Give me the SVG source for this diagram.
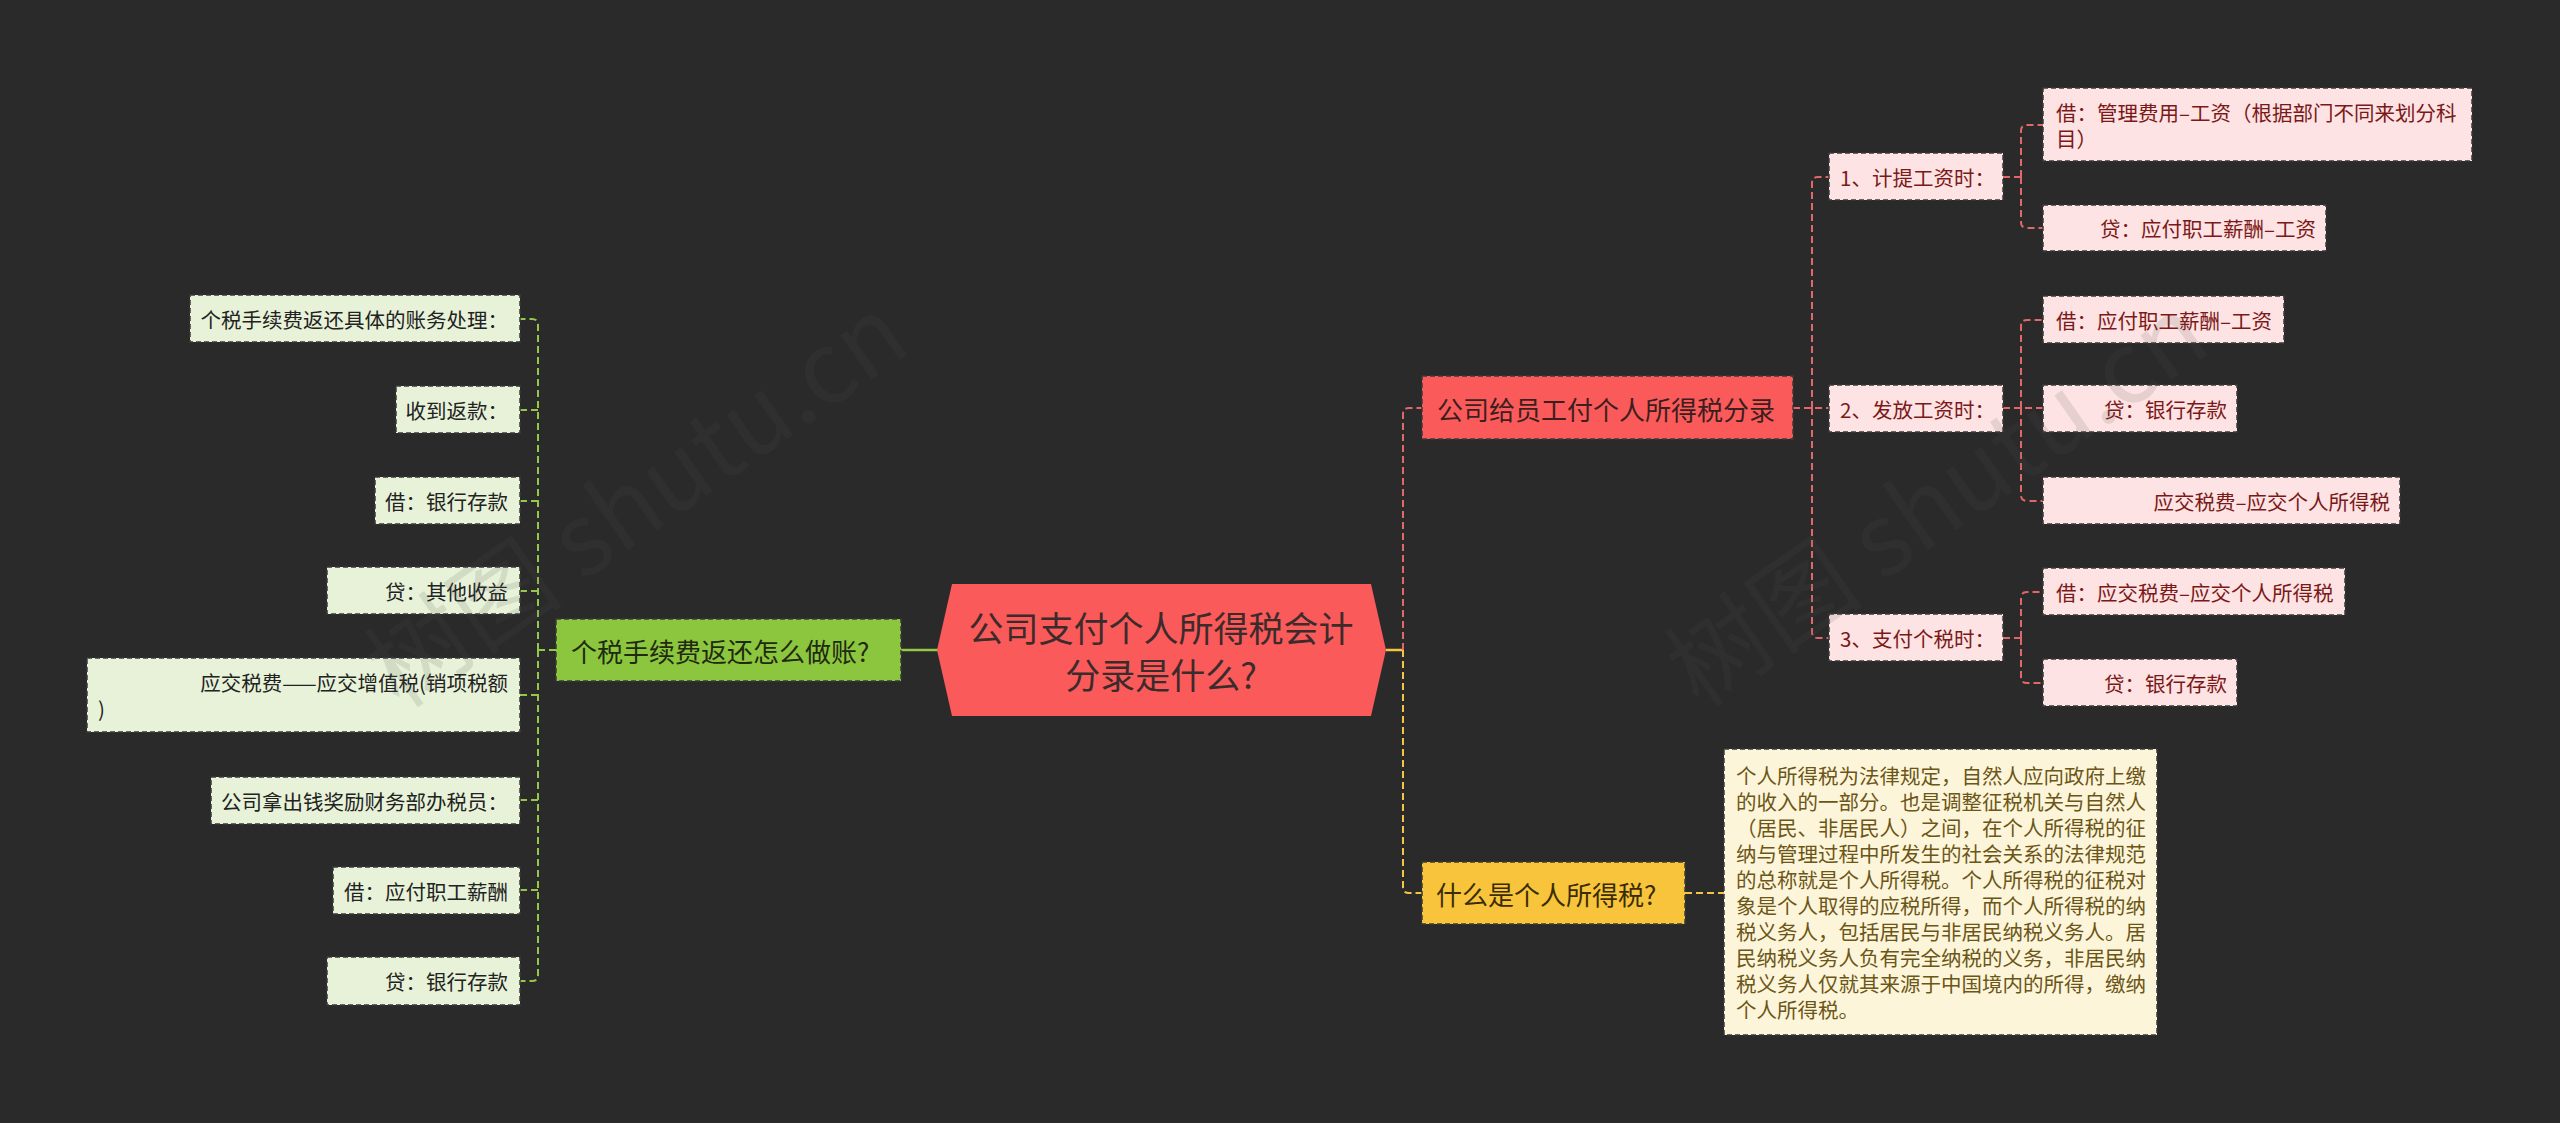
<svg xmlns="http://www.w3.org/2000/svg" width="2560" height="1123" viewBox="0 0 2560 1123">
<style>
text{font-family:"Noto Sans CJK SC","Noto Sans",sans-serif;dominant-baseline:central}
.nb{stroke:#3a3a3a;stroke-width:1.5;stroke-dasharray:5 3}
.red{fill:#fa5a5a}
.pink{fill:#fde3e3}
.gl{fill:#e7f2d8}
.gb{fill:#8cc63e}
.yl{fill:#f8c43c}
.ds{fill:#fdf5d9}
.tp{font-size:20.5px;fill:#7b1818}
.tg{font-size:20.5px;fill:#222222}
.td{font-size:20.5px;fill:#6b5618}
.tb{font-size:26px}
.c{fill:none;stroke-width:2;stroke-dasharray:7 4}
.cr{stroke:#e0676a}
.cg{stroke:#95c847}
.cy{stroke:#f4c542}
.wm{font-size:100px;fill:#505050;opacity:0.13;font-family:"Noto Sans CJK SC",sans-serif;dominant-baseline:alphabetic}
</style>
<rect x="0" y="0" width="2560" height="1123" fill="#2a2a2a"/>

<g id="connectors">
  <path d="M940,650 H901" stroke="#95c847" stroke-width="2.5" fill="none"/>
  <path d="M1386,650 H1403" stroke="#f4c542" stroke-width="2.5" fill="none"/>
  <path class="c cr" d="M1403,650 V414 Q1403,408 1409,408 H1422"/>
  <path class="c cy" d="M1403,650 V887 Q1403,893 1409,893 H1422"/>
  <path class="c cy" d="M1685,893 H1724"/>
  <path class="c cr" d="M1793,408 H1829"/>
  <path class="c cr" d="M1812,408 V183 Q1812,177 1818,177 H1829"/>
  <path class="c cr" d="M1812,408 V632 Q1812,638 1818,638 H1829"/>
  <path class="c cr" d="M2003,177 H2021"/>
  <path class="c cr" d="M2021,177 V131 Q2021,125 2027,125 H2043"/>
  <path class="c cr" d="M2021,177 V222 Q2021,228 2027,228 H2043"/>
  <path class="c cr" d="M2003,408 H2043"/>
  <path class="c cr" d="M2021,408 V326 Q2021,320 2027,320 H2043"/>
  <path class="c cr" d="M2021,408 V495 Q2021,501 2027,501 H2043"/>
  <path class="c cr" d="M2003,638 H2021"/>
  <path class="c cr" d="M2021,638 V598 Q2021,592 2027,592 H2043"/>
  <path class="c cr" d="M2021,638 V677 Q2021,683 2027,683 H2043"/>
  <path class="c cg" d="M556,650 H538"/>
  <path class="c cg" d="M538,650 V325 Q538,319 532,319 H520"/>
  <path class="c cg" d="M538,650 V975 Q538,981 532,981 H520"/>
  <path class="c cg" d="M538,410 H520"/>
  <path class="c cg" d="M538,501 H520"/>
  <path class="c cg" d="M538,591 H520"/>
  <path class="c cg" d="M538,695 H520"/>
  <path class="c cg" d="M538,800 H520"/>
  <path class="c cg" d="M538,890 H520"/>
</g>

<g id="root">
  <polygon class="red" points="937,650 952,584 1371,584 1386,650 1371,716 952,716"/>
  <text x="1161" y="626" font-size="35" fill="#3c2b2b" text-anchor="middle">公司支付个人所得税会计</text>
  <text x="1161" y="673" font-size="35" fill="#3c2b2b" text-anchor="middle">分录是什么?</text>
</g>

<g id="branch-red">
  <rect class="red nb" x="1422" y="376" width="371" height="63"/>
  <text class="tb" x="1437" y="408" fill="#3c1e1e">公司给员工付个人所得税分录</text>
</g>
<g id="branch-yellow">
  <rect class="yl nb" x="1422" y="862" width="263" height="62"/>
  <text class="tb" x="1436" y="893" fill="#3a2d05">什么是个人所得税?</text>
</g>
<g id="branch-green">
  <rect class="gb nb" x="556" y="619" width="345" height="62"/>
  <text class="tb" x="571" y="650" fill="#1f2a10">个税手续费返还怎么做账?</text>
</g>

<g id="desc">
  <rect class="ds nb" x="1724" y="749" width="433" height="286"/>
  <text class="td" x="1736" y="775">个人所得税为法律规定，自然人应向政府上缴</text>
  <text class="td" x="1736" y="801">的收入的一部分。也是调整征税机关与自然人</text>
  <text class="td" x="1736" y="827">（居民、非居民人）之间，在个人所得税的征</text>
  <text class="td" x="1736" y="853">纳与管理过程中所发生的社会关系的法律规范</text>
  <text class="td" x="1736" y="879">的总称就是个人所得税。个人所得税的征税对</text>
  <text class="td" x="1736" y="905">象是个人取得的应税所得，而个人所得税的纳</text>
  <text class="td" x="1736" y="931">税义务人，包括居民与非居民纳税义务人。居</text>
  <text class="td" x="1736" y="957">民纳税义务人负有完全纳税的义务，非居民纳</text>
  <text class="td" x="1736" y="983">税义务人仅就其来源于中国境内的所得，缴纳</text>
  <text class="td" x="1736" y="1009">个人所得税。</text>
</g>

<g id="step1">
  <rect class="pink nb" x="1829" y="153" width="174" height="47"/>
  <text class="tp" x="1840" y="177">1、计提工资时：</text>
</g>
<g id="step2">
  <rect class="pink nb" x="1829" y="385" width="174" height="47"/>
  <text class="tp" x="1840" y="409">2、发放工资时：</text>
</g>
<g id="step3">
  <rect class="pink nb" x="1829" y="614" width="174" height="47"/>
  <text class="tp" x="1840" y="638">3、支付个税时：</text>
</g>

<g id="a1">
  <rect class="pink nb" x="2043" y="88" width="429" height="73"/>
  <text class="tp" x="2056" y="112">借：管理费用–工资（根据部门不同来划分科</text>
  <text class="tp" x="2056" y="138">目）</text>
</g>
<g id="a2">
  <rect class="pink nb" x="2043" y="205" width="283" height="46"/>
  <text class="tp" x="2316" y="228" text-anchor="end">贷：应付职工薪酬–工资</text>
</g>
<g id="b1">
  <rect class="pink nb" x="2043" y="296" width="241" height="47"/>
  <text class="tp" x="2056" y="320">借：应付职工薪酬–工资</text>
</g>
<g id="b2">
  <rect class="pink nb" x="2043" y="385" width="194" height="47"/>
  <text class="tp" x="2227" y="409" text-anchor="end">贷：银行存款</text>
</g>
<g id="b3">
  <rect class="pink nb" x="2043" y="477" width="357" height="47"/>
  <text class="tp" x="2390" y="501" text-anchor="end">应交税费–应交个人所得税</text>
</g>
<g id="c1">
  <rect class="pink nb" x="2043" y="568" width="302" height="47"/>
  <text class="tp" x="2056" y="592">借：应交税费–应交个人所得税</text>
</g>
<g id="c2">
  <rect class="pink nb" x="2043" y="659" width="194" height="47"/>
  <text class="tp" x="2227" y="683" text-anchor="end">贷：银行存款</text>
</g>

<g id="l1">
  <rect class="gl nb" x="190" y="295" width="330" height="47"/>
  <text class="tg" x="508" y="319" text-anchor="end">个税手续费返还具体的账务处理：</text>
</g>
<g id="l2">
  <rect class="gl nb" x="396" y="386" width="124" height="47"/>
  <text class="tg" x="508" y="410" text-anchor="end">收到返款：</text>
</g>
<g id="l3">
  <rect class="gl nb" x="375" y="477" width="145" height="47"/>
  <text class="tg" x="508" y="501" text-anchor="end">借：银行存款</text>
</g>
<g id="l4">
  <rect class="gl nb" x="327" y="567" width="193" height="47"/>
  <text class="tg" x="508" y="591" text-anchor="end">贷：其他收益</text>
</g>
<g id="l5">
  <rect class="gl nb" x="87" y="658" width="433" height="74"/>
  <text class="tg" x="508" y="682" text-anchor="end">应交税费——应交增值税(销项税额</text>
  <text class="tg" x="98" y="708">)</text>
</g>
<g id="l6">
  <rect class="gl nb" x="211" y="777" width="309" height="47"/>
  <text class="tg" x="508" y="801" text-anchor="end">公司拿出钱奖励财务部办税员：</text>
</g>
<g id="l7">
  <rect class="gl nb" x="333" y="867" width="187" height="47"/>
  <text class="tg" x="508" y="891" text-anchor="end">借：应付职工薪酬</text>
</g>
<g id="l8">
  <rect class="gl nb" x="327" y="957" width="193" height="48"/>
  <text class="tg" x="508" y="981" text-anchor="end">贷：银行存款</text>
</g>

<g id="watermark">
  <text class="wm" transform="translate(400,710) rotate(-35)">树图 shutu.cn</text>
  <text class="wm" transform="translate(1700,710) rotate(-35)">树图 shutu.cn</text>
</g>
</svg>
